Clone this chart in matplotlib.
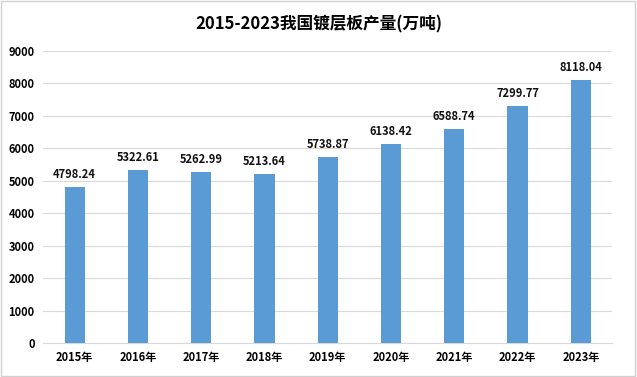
import matplotlib; matplotlib.use('Agg')
import matplotlib.pyplot as plt
from matplotlib.patches import Rectangle

plt.rcParams['font.family'] = ['Noto Sans CJK SC', 'DejaVu Sans']

years = ['2015年', '2016年', '2017年', '2018年', '2019年',
         '2020年', '2021年', '2022年', '2023年']
output = [4798.24, 5322.61, 5262.99, 5213.64, 5738.87,
          6138.42, 6588.74, 7299.77, 8118.04]
yticks = list(range(0, 9001, 1000))

fig = plt.figure(figsize=(6.37, 3.77), dpi=100)
ax = fig.add_axes([0.0675, 0.090, 0.894, 0.775])

x = range(len(years))
bars = ax.bar(x, output, width=0.32, color='#5B9BD5', zorder=3)
for xi, v in zip(x, output):
    ax.text(xi, v + 180, f'{v:.2f}', ha='center', va='bottom',
            fontsize=8, fontweight='bold', color='#111')

ax.set_xlim(-0.5, len(years) - 0.5)
ax.set_ylim(0, 9000)
ax.set_yticks(yticks)
ax.set_yticklabels([str(t) for t in yticks], fontsize=8, fontweight='bold')
ax.set_xticks(list(x))
ax.set_xticklabels(years, fontsize=8, fontweight='bold')
ax.grid(axis='y', color='#d9d9d9', lw=0.8, zorder=0)
for s in ['top', 'right', 'left']:
    ax.spines[s].set_visible(False)
ax.spines['bottom'].set_color('#d9d9d9')
ax.tick_params(length=0, pad=6)

fig.text(0.5, 0.935, '2015-2023我国镀层板产量(万吨)', ha='center', va='center',
         fontsize=12, fontweight='bold')
fig.patches.append(Rectangle((0.002, 0.003), 0.995, 0.994, transform=fig.transFigure,
                             fill=False, edgecolor='#d0d0d0', lw=1))

plt.savefig('out.png', dpi=100, facecolor='white')
plt.close()
